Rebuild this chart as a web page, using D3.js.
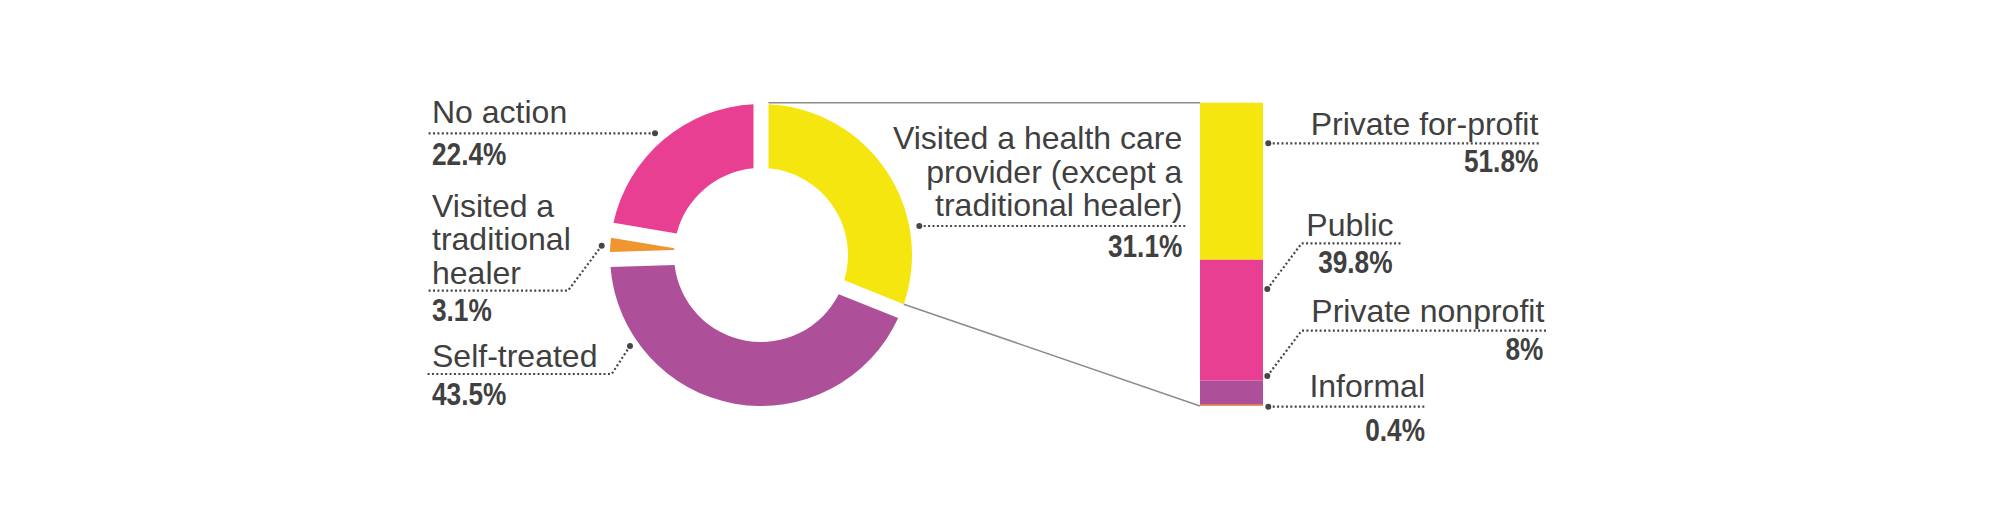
<!DOCTYPE html>
<html>
<head>
<meta charset="utf-8">
<script src="https://cdn.jsdelivr.net/npm/d3@7"></script>
<style>
  html, body { margin: 0; padding: 0; background: #fff; }
  .name { font-family: "Liberation Sans", Arial, sans-serif; font-size: 32px; fill: #404040; }
  .pct { font-family: "Liberation Sans", Arial, sans-serif; font-weight: bold; font-size: 32px; fill: #404040; }
</style>
</head>
<body>
<div id="c"></div>
<script>
// first split: what people did when ill
var outcome_names = ["Visited a health care provider (except a traditional healer)", "Self-treated", "Visited a traditional healer", "No action"];
var outcome_values = [31.1, 43.5, 3.1, 22.4];
var outcome_colors = ["#f6e60f", "#ae5099", "#ef9631", "#e93f92"];

// second split: type of provider visited
var provider_names = ["Private for-profit", "Public", "Private nonprofit", "Informal"];
var provider_values = [51.8, 39.8, 8, 0.4];
var provider_colors = ["#f6e60f", "#e93f92", "#ae5099", "#ef9631"];

var width = 2008;
var height = 531;

var cx = 761, cy = 255;
var r_outer = 151, r_inner = 87;
var gap = 15;

var bar_x0 = 1200, bar_x1 = 1263;
var bar_top = 102.7, bar_bottom = 406;

var dot_col = "#464646";
var narrow = 0.82; // squeeze bold numbers like a narrow face

var svg = d3.select("#c").append("svg")
	.attr("width", width)
	.attr("height", height);

// donut
var pie = d3.pie().sort(null).value(function(d) { return d; });
var arcs = pie(outcome_values);

var arc = d3.arc()
	.innerRadius(r_inner)
	.outerRadius(r_outer)
	.padAngle(gap / r_outer)
	.padRadius(r_outer);

var pie_g = svg.append("g")
	.attr("transform", "translate(" + cx + "," + cy + ")");

pie_g.selectAll("path")
	.data(arcs)
	.enter()
	.append("path")
	.attr("d", arc)
	.attr("fill", function(d, i) { return outcome_colors[i]; });

// stacked bar
var y_scale = d3.scaleLinear()
	.domain([0, d3.sum(provider_values)])
	.range([bar_top, bar_bottom]);

var stack_start = [];
var acc = 0;
for (var i = 0; i < provider_values.length; i++) {
	stack_start.push(acc);
	acc += provider_values[i];
}

svg.append("g").selectAll("rect")
	.data(provider_values)
	.enter()
	.append("rect")
	.attr("x", bar_x0)
	.attr("width", bar_x1 - bar_x0)
	.attr("y", function(d, i) { return y_scale(stack_start[i]); })
	.attr("height", function(d, i) { return y_scale(stack_start[i] + d) - y_scale(stack_start[i]); })
	.attr("fill", function(d, i) { return provider_colors[i]; });

// gray lines from the yellow slice out to the bar
var yel = arcs[0];
var off = Math.asin((gap / 2) / r_outer);
var a_start = yel.startAngle + off, a_end = yel.endAngle - off;
var p_start = [cx + r_outer * Math.sin(a_start), cy - r_outer * Math.cos(a_start)];
var p_end = [cx + r_outer * Math.sin(a_end), cy - r_outer * Math.cos(a_end)];

svg.append("line")
	.attr("x1", p_start[0]).attr("y1", bar_top)
	.attr("x2", bar_x0).attr("y2", bar_top)
	.attr("stroke", "#8c8c8c").attr("stroke-width", 1.6);

svg.append("line")
	.attr("x1", p_end[0]).attr("y1", p_end[1])
	.attr("x2", bar_x0).attr("y2", y_scale(d3.sum(provider_values)))
	.attr("stroke", "#8c8c8c").attr("stroke-width", 1.6);

// label layout: text lines, anchor, leader path (dot first)
var pie_labels = [
	{ i: 3, lines: ["No action"], x: 432, base: 122.7, anchor: "start", pct_x: 432, pct_y: 165,
	  leader: [[655, 133.3], [427, 133.3]] },
	{ i: 2, lines: ["Visited a", "traditional", "healer"], x: 432, base: 216.7, anchor: "start", pct_x: 432, pct_y: 320.7,
	  leader: [[601.7, 245.7], [568, 290.7], [427, 290.7]] },
	{ i: 1, lines: ["Self-treated"], x: 432, base: 367.3, anchor: "start", pct_x: 432, pct_y: 405,
	  leader: [[630, 346], [611.7, 374], [427, 374]] },
	{ i: 0, lines: ["Visited a health care", "provider (except a", "traditional healer)"], x: 1182.3, base: 149.3, anchor: "end", pct_x: 1182.3, pct_y: 256.7,
	  leader: [[919.3, 226], [1187.7, 226]] }
];

var bar_labels = [
	{ i: 0, lines: ["Private for-profit"], x: 1538.3, base: 135, anchor: "end", pct_x: 1538.3, pct_y: 171.7,
	  leader: [[1268.3, 143.3], [1540, 143.3]] },
	{ i: 1, lines: ["Public"], x: 1393.5, base: 236, anchor: "end", pct_x: 1392.5, pct_y: 272.7,
	  leader: [[1267.3, 289], [1301.7, 243.3], [1402.3, 243.3]] },
	{ i: 2, lines: ["Private nonprofit"], x: 1544.3, base: 321.7, anchor: "end", pct_x: 1543.3, pct_y: 360,
	  leader: [[1267.3, 376], [1301.7, 330.7], [1546.7, 330.7]] },
	{ i: 3, lines: ["Informal"], x: 1425, base: 396.7, anchor: "end", pct_x: 1425, pct_y: 441,
	  leader: [[1268.3, 406.7], [1426.7, 406.7]] }
];

var line_gap = 33.4;

function fmt(v) { return v + "%"; }

function draw_labels(list, values) {
	var g = svg.append("g");
	list.forEach(function(l) {
		g.append("path")
			.attr("d", d3.line()(l.leader))
			.attr("fill", "none")
			.attr("stroke", dot_col)
			.attr("stroke-width", 2.2)
			.attr("stroke-dasharray", "2,2.4");
		g.append("circle")
			.attr("cx", l.leader[0][0])
			.attr("cy", l.leader[0][1])
			.attr("r", 3)
			.attr("fill", dot_col);
		l.lines.forEach(function(t, k) {
			g.append("text")
				.attr("class", "name")
				.attr("x", l.x)
				.attr("y", l.base + k * line_gap)
				.attr("text-anchor", l.anchor)
				.text(t);
		});
		g.append("text")
			.attr("class", "pct")
			.attr("transform", "translate(" + l.pct_x + "," + l.pct_y + ") scale(" + narrow + ",1)")
			.attr("text-anchor", l.anchor)
			.text(fmt(values[l.i]));
	});
}

draw_labels(pie_labels, outcome_values);
draw_labels(bar_labels, provider_values);
</script>
</body>
</html>
